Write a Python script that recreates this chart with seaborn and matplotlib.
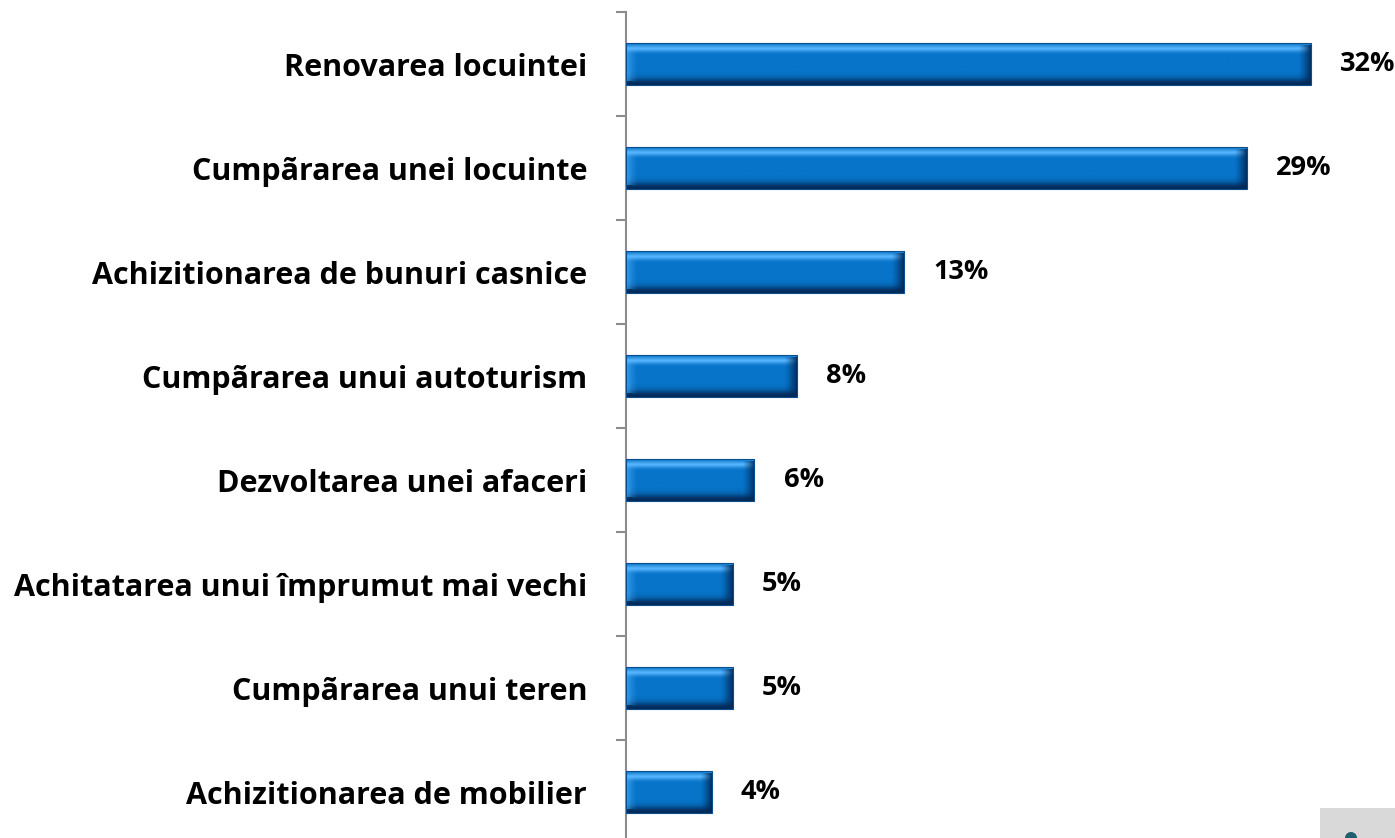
import numpy as np
import matplotlib
matplotlib.use("Agg")
import matplotlib.pyplot as plt
from matplotlib.patches import Rectangle, Ellipse
import seaborn as sns
import pandas as pd

categories = [
    "Renovarea locuintei",
    "Cumpãrarea unei locuinte",
    "Achizitionarea de bunuri casnice",
    "Cumpãrarea unui autoturism",
    "Dezvoltarea unei afaceri",
    "Achitatarea unui împrumut mai vechi",
    "Cumpãrarea unui teren",
    "Achizitionarea de mobilier",
]
values = [32, 29, 13, 8, 6, 5, 5, 4]
value_labels = ["32%", "29%", "13%", "8%", "6%", "5%", "5%", "4%"]

sns.set_theme(style="white")
plt.rcParams["font.family"] = ["Open Sans", "DejaVu Sans"]

df = pd.DataFrame({"motiv": categories, "procent": values})

W, H = 1395, 838
fig = plt.figure(figsize=(W / 100, H / 100), dpi=100)
ax = fig.add_axes([626 / W, -6 / H, 749 / W, 832 / H])

base = "#0774c9"
sns.barplot(data=df, y="motiv", x="procent", orient="h", color=base,
            width=0.4, saturation=1, ax=ax, zorder=2)

ax.set_xlim(0, 35)
ax.set_ylim(len(categories) - 0.5, -0.5)

# bevelled shading over each bar, built from the bar's own extent
vgrad = np.array([0.55, 0.75, 1.0, 0.8, 0.55, 0.45, 0.45, 0.45, 0.45, 0.45,
                  0.45, 0.45, 0.45, 0.45, 0.40, 0.30, 0.15, -0.2, -0.5, -0.7])
light = np.array([0.35, 0.72, 1.0])
dark = np.array([0.0, 0.16, 0.34])
mid = np.array(matplotlib.colors.to_rgb(base))
for p in ax.patches:
    x0, y0 = p.get_x(), p.get_y()
    w, h = p.get_width(), p.get_height()
    p.set_visible(False)
    n = len(vgrad)
    img = np.zeros((n, 2, 3))
    for i, g in enumerate(vgrad):
        g2 = g - 0.45
        if g2 >= 0:
            c = mid + (light - mid) * (g2 / 0.55)
        else:
            c = mid + (dark - mid) * (-g2 / 1.15)
        img[i, :, :] = np.clip(c, 0, 1)
    ax.imshow(img, extent=(x0, x0 + w, y0 + h, y0), aspect="auto",
              interpolation="bilinear", zorder=2)
    # right end bevel
    ew = min(0.6, w * 0.14)
    redge = np.linspace(0, 1, 12)
    rimg = np.zeros((1, 12, 4))
    rimg[0, :, :3] = dark
    rimg[0, :, 3] = redge ** 1.3 * 0.9
    ax.imshow(rimg, extent=(x0 + w - ew, x0 + w, y0 + h * 0.95, y0 + h * 0.05),
              aspect="auto", interpolation="bilinear", zorder=3)
    # left end bevel
    limg = np.zeros((1, 12, 4))
    limg[0, :, :3] = light
    limg[0, :, 3] = (1 - redge) ** 1.5 * 0.6
    ax.imshow(limg, extent=(x0, x0 + ew, y0 + h * 0.9, y0 + h * 0.1),
              aspect="auto", interpolation="bilinear", zorder=3)
    ax.add_patch(Rectangle((x0, y0), w, h, fill=False, edgecolor="#0a4f8c",
                           linewidth=0.8, zorder=4))

for i, (v, lab) in enumerate(zip(values, value_labels)):
    ax.annotate(lab, xy=(v, i), xytext=(21, 0), textcoords="offset points",
                ha="left", va="center", fontsize=19.5, fontweight="bold",
                color="black")

ax.set_xlabel("")
ax.set_ylabel("")
ax.set_xticks([])
ax.tick_params(axis="y", which="major", length=0, pad=28, labelsize=22)
for t in ax.get_yticklabels():
    t.set_fontweight("bold")
    t.set_color("black")
ax.set_yticks(np.arange(-0.5, len(categories) + 0.5, 1), minor=True)
ax.tick_params(axis="y", which="minor", length=7, width=1.5, color="#8c8c8c",
               left=True)
for side in ["top", "right", "bottom"]:
    ax.spines[side].set_visible(False)
ax.spines["left"].set_color("#8c8c8c")
ax.spines["left"].set_linewidth(1.5)

# corner badge
fig.patches.append(Rectangle((1320 / W, 0), 75 / W, 30 / H, transform=fig.transFigure,
                             facecolor="#d9d9d9", edgecolor="none", zorder=0))
fig.patches.append(Ellipse((1351 / W, 0), 12 / W, 12 / H, transform=fig.transFigure,
                           facecolor="#1f5f6e", edgecolor="none", zorder=1))

fig.savefig("out.png", dpi=100)
